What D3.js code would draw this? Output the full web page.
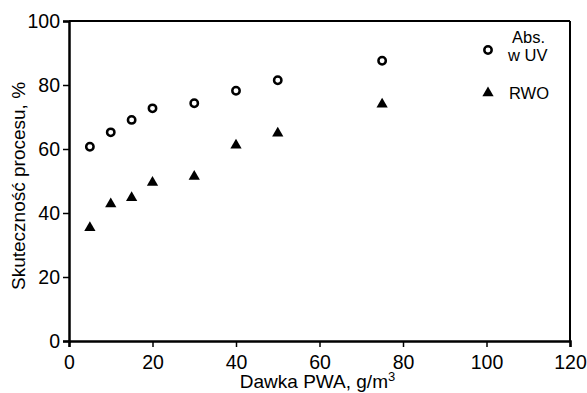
<!DOCTYPE html>
<html lang="pl">
<head>
<meta charset="utf-8">
<title>Skuteczność procesu</title>
<script src="https://cdn.jsdelivr.net/npm/d3@7"></script>
<style>
  body { margin: 0; background: #fff; }
  text { font-family: "Liberation Sans", Arial, sans-serif; fill: #000; }
</style>
</head>
<body>
<script>
// dane
var dose = [5, 10, 15, 20, 30, 40, 50, 75];
var absUV = [60.7, 65.2, 69.1, 72.7, 74.3, 78.2, 81.5, 87.6];
var rwo = [35.4, 42.8, 44.8, 49.5, 51.4, 61.2, 64.9, 74.0];
var xTicks = [0, 20, 40, 60, 80, 100, 120];
var yTicks = [0, 20, 40, 60, 80, 100];

var W = 587, H = 393;
var margin = {top: 21, right: 17, bottom: 52, left: 69};
var width = W - margin.left - margin.right;
var height = H - margin.top - margin.bottom;

var svg = d3.select("body").append("svg")
    .attr("width", W)
    .attr("height", H);

var g = svg.append("g")
    .attr("transform", "translate(" + margin.left + "," + margin.top + ")");

var x = d3.scaleLinear().domain([0, 120]).range([0, width]);
var y = d3.scaleLinear().domain([0, 100]).range([height, 0]);

// ramka: gora i prawa
g.append("line").attr("x1", 0).attr("x2", width).attr("y1", 0).attr("y2", 0)
    .attr("stroke", "#000").attr("stroke-width", 2);
g.append("line").attr("x1", width).attr("x2", width).attr("y1", 0).attr("y2", height)
    .attr("stroke", "#000").attr("stroke-width", 2);

var xAxis = g.append("g")
    .attr("transform", "translate(0," + height + ")")
    .call(d3.axisBottom(x).tickValues(xTicks).tickSize(6).tickPadding(4));
var yAxis = g.append("g")
    .call(d3.axisLeft(y).tickValues(yTicks).tickSize(6).tickPadding(3));

[xAxis, yAxis].forEach(function (a) {
    a.select(".domain").attr("stroke", "#000").attr("stroke-width", 2.5);
    a.selectAll(".tick line").attr("stroke", "#000").attr("stroke-width", 1.5);
    a.selectAll(".tick text")
        .style("font-family", "'Liberation Sans', Arial, sans-serif")
        .style("font-size", "19.5px");
});
xAxis.selectAll(".tick text").attr("dy", "0.9em");

// tytuly osi
var xt = svg.append("text")
    .attr("x", margin.left + width / 2 - 2)
    .attr("y", 388)
    .attr("text-anchor", "middle")
    .style("font-size", "19px")
    .text("Dawka PWA, g/m");
xt.append("tspan").attr("dy", -7).style("font-size", "13px").text("3");

svg.append("text")
    .attr("transform", "translate(25," + 186 + ") rotate(-90)")
    .attr("text-anchor", "middle")
    .style("font-size", "19px")
    .text("Skuteczność procesu, %");

// punkty
var pts = dose.map(function (d, i) { return {x: d, a: absUV[i], r: rwo[i]}; });

g.selectAll("circle.abs")
    .data(pts)
    .enter()
    .append("circle")
    .attr("class", "abs")
    .attr("cx", function (d) { return x(d.x); })
    .attr("cy", function (d) { return y(d.a); })
    .attr("r", 3.7)
    .attr("fill", "#fff")
    .attr("stroke", "#000")
    .attr("stroke-width", 2.5);

var tri = d3.symbol().type(d3.symbolTriangle).size(55);
g.selectAll("path.rwo")
    .data(pts)
    .enter()
    .append("path")
    .attr("class", "rwo")
    .attr("d", tri)
    .attr("transform", function (d) { return "translate(" + x(d.x) + "," + y(d.r) + ")"; })
    .attr("fill", "#000");

// legenda
var leg = svg.append("g");
leg.append("circle")
    .attr("cx", 488).attr("cy", 50).attr("r", 3.7)
    .attr("fill", "#fff").attr("stroke", "#000").attr("stroke-width", 2.5);
leg.append("text").attr("x", 512).attr("y", 43).style("font-size", "16.5px").text("Abs.");
leg.append("text").attr("x", 508).attr("y", 61).style("font-size", "16.5px").text("w UV");
leg.append("path")
    .attr("d", tri)
    .attr("transform", "translate(488,93)")
    .attr("fill", "#000");
leg.append("text").attr("x", 509).attr("y", 99).style("font-size", "16.5px").text("RWO");
</script>
</body>
</html>
